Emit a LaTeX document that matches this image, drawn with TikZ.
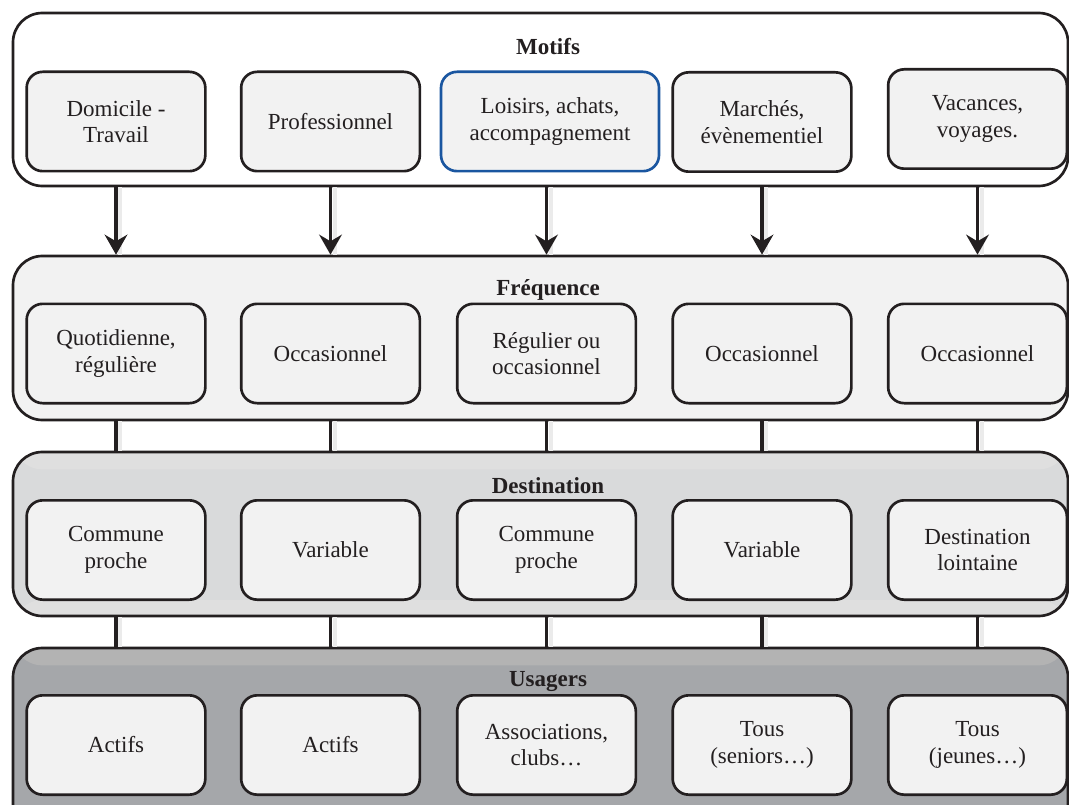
\documentclass[tikz,border=0pt]{standalone}
\usepackage{fontspec}
\setmainfont{Liberation Serif}
\usetikzlibrary{fit,arrows.meta}
\definecolor{txt}{HTML}{231F20}
\definecolor{boxfill}{HTML}{F2F2F2}
\definecolor{freqfill}{HTML}{F2F2F2}
\definecolor{destfill}{HTML}{D9DADB}
\definecolor{destband}{HTML}{DFDFDF}
\definecolor{usafill}{HTML}{A5A7AA}
\definecolor{usaband}{HTML}{B3B3B3}
\definecolor{blueedge}{HTML}{1A56A0}
\begin{document}
\begin{tikzpicture}[x=0.75pt,y=-0.75pt,
  container/.style={draw=txt, line width=2pt, rounded corners=22pt, inner sep=0pt},
  box/.style={draw=txt, line width=2pt, rounded corners=12pt, fill=boxfill, inner sep=0pt,
    minimum width=134pt, minimum height=74.5pt,
    align=center, font=\fontsize{17.25}{20}\selectfont, text=txt},
  title/.style={font=\bfseries\fontsize{17.25}{20}\selectfont, text=txt, inner sep=0pt},
  arrowline/.style={draw=txt, line width=2.3pt, -{Stealth[length=15pt,width=17pt,inset=5pt]}},
  link/.style={draw=txt, line width=2.3pt},
  shadowline/.style={draw=black!8, line width=3pt}]
\useasboundingbox (0,0) rectangle (1069,805);
\clip (0,0) rectangle (1069,805);

% containers
\node[container, fill=white, fit={(13,13) (1068,186)}] (motifs) {};
\node[container, fill=freqfill, fit={(13,256) (1068,420)}] (freq) {};
\node[container, fill=destfill, fit={(13,452) (1068,616)},
  path picture={\fill[destband] (path picture bounding box.north west) rectangle ([yshift=-13pt]path picture bounding box.north east);
                \fill[destband] (path picture bounding box.south west) rectangle ([yshift=12pt]path picture bounding box.south east);}] (dest) {};
\node[container, fill=usafill, fit={(13,648) (1068,840)},
  path picture={\fill[usaband] (path picture bounding box.north west) rectangle ([yshift=-13pt]path picture bounding box.north east);}] (usa) {};

% titles
\node[title] (tmotifs) at (548,47) {Motifs};
\node[title] (tfreq) at (548,290) {Fréquence};
\node[title] (tdest) at (548,486) {Destination};
\node[title] (tusa) at (548,682) {Usagers};

% Motifs row
\node[box] (m1) at (116,121.5) {Domicile -\\Travail};
\node[box] (m2) at (330.5,121.5) {Professionnel};
\node[box, draw=blueedge, minimum width=163.5pt] (m3) at (550,121.5) {Loisirs, achats,\\accompagnement};
\node[box] (m4) at (762,122) {Marchés,\\évènementiel};
\node[box] (m5) at (977.5,119) {Vacances,\\voyages.};

% Frequence row
\node[box] (f1) at (116,353.5) {Quotidienne,\\régulière};
\node[box] (f2) at (330.5,353.5) {Occasionnel};
\node[box] (f3) at (546.5,353.5) {Régulier ou\\occasionnel};
\node[box] (f4) at (762,353.5) {Occasionnel};
\node[box] (f5) at (977.5,353.5) {Occasionnel};

% Destination row
\node[box] (d1) at (116,550) {Commune\\proche};
\node[box] (d2) at (330.5,550) {Variable};
\node[box] (d3) at (546.5,550) {Commune\\proche};
\node[box] (d4) at (762,550) {Variable};
\node[box] (d5) at (977.5,550) {Destination\\lointaine};

% Usagers row
\node[box] (u1) at (116,745) {Actifs};
\node[box] (u2) at (330.5,745) {Actifs};
\node[box] (u3) at (546.5,745) {Associations,\\clubs…};
\node[box] (u4) at (762,745) {Tous\\(seniors…)};
\node[box] (u5) at (977.5,745) {Tous\\(jeunes…)};

% connectors
\foreach \i in {1,...,5}{
  \draw[shadowline] ([xshift=3pt]f\i |- motifs.south) -- ([xshift=3pt]f\i |- freq.north);
  \draw[shadowline] ([xshift=3pt]f\i |- freq.south) -- ([xshift=3pt]d\i |- dest.north);
  \draw[shadowline] ([xshift=3pt]d\i |- dest.south) -- ([xshift=3pt]u\i |- usa.north);
  \draw[arrowline] (f\i |- motifs.south) -- (f\i |- freq.north);
  \draw[link] (f\i |- freq.south) -- (d\i |- dest.north);
  \draw[link] (d\i |- dest.south) -- (u\i |- usa.north);
}
\end{tikzpicture}
\end{document}
